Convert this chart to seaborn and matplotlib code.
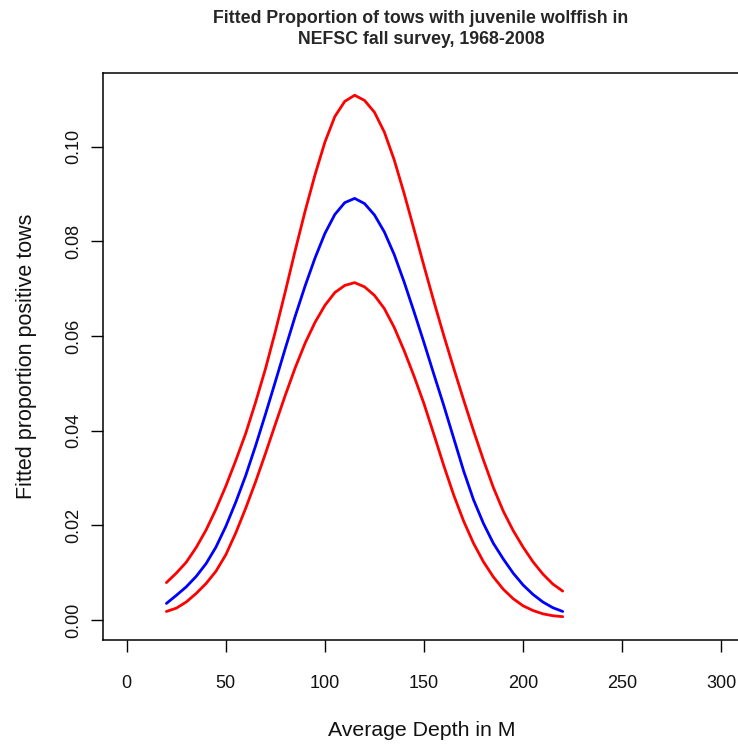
import numpy as np
import pandas as pd
import matplotlib
matplotlib.use("Agg")
import matplotlib.pyplot as plt
import seaborn as sns

# ---- data ----
depth = [20, 25, 30, 35, 40, 45, 50, 55, 60, 65, 70, 75, 80, 85, 90, 95, 100,
         105, 110, 115, 120, 125, 130, 135, 140, 145, 150, 155, 160, 165, 170,
         175, 180, 185, 190, 195, 200, 205, 210, 215, 220]
fit = [0.0035, 0.0052, 0.0070, 0.0092, 0.0119, 0.0154, 0.0198, 0.0249, 0.0305,
       0.0368, 0.0435, 0.0504, 0.0574, 0.0642, 0.0706, 0.0765, 0.0817, 0.0857,
       0.0882, 0.0891, 0.0880, 0.0856, 0.0820, 0.0772, 0.0714, 0.0651, 0.0586,
       0.0519, 0.0453, 0.0384, 0.0315, 0.0254, 0.0204, 0.0162, 0.0129, 0.0099,
       0.0074, 0.0054, 0.0038, 0.0026, 0.0018]
upper = [0.0079, 0.0099, 0.0122, 0.0153, 0.0190, 0.0234, 0.0283, 0.0337, 0.0394,
         0.0460, 0.0531, 0.0610, 0.0694, 0.0781, 0.0864, 0.0941, 0.1010, 0.1064,
         0.1096, 0.1109, 0.1098, 0.1073, 0.1031, 0.0972, 0.0901, 0.0825, 0.0748,
         0.0673, 0.0601, 0.0532, 0.0465, 0.0400, 0.0338, 0.0280, 0.0230, 0.0189,
         0.0154, 0.0123, 0.0097, 0.0076, 0.0061]
lower = [0.0018, 0.0025, 0.0038, 0.0056, 0.0077, 0.0103, 0.0138, 0.0184, 0.0236,
         0.0292, 0.0352, 0.0414, 0.0475, 0.0533, 0.0585, 0.0629, 0.0665, 0.0692,
         0.0707, 0.0713, 0.0704, 0.0686, 0.0658, 0.0618, 0.0569, 0.0515, 0.0457,
         0.0392, 0.0326, 0.0264, 0.0209, 0.0162, 0.0123, 0.0091, 0.0065, 0.0045,
         0.0030, 0.0020, 0.0013, 0.0009, 0.0007]

x_ticks = [0, 50, 100, 150, 200, 250, 300]
y_ticks = [0.00, 0.02, 0.04, 0.06, 0.08, 0.10]
y_tick_labels = ["0.00", "0.02", "0.04", "0.06", "0.08", "0.10"]

title = "Fitted Proportion of tows with juvenile wolffish in\nNEFSC fall survey, 1968-2008"
xlabel = "Average Depth in M"
ylabel = "Fitted proportion positive tows"

sns.set_style("white")
plt.rcParams["font.family"] = ["Liberation Sans", "DejaVu Sans"]

df = pd.DataFrame({
    "depth": depth * 3,
    "value": fit + upper + lower,
    "series": ["fit"] * len(depth) + ["upper"] * len(depth) + ["lower"] * len(depth),
})

W, H = 738, 747
fig = plt.figure(figsize=(W / 100, H / 100), dpi=100)
ax = fig.add_axes([103 / W, 1 - 640 / H, (745 - 103) / W, (640 - 73) / H])

palette = {"fit": "#0000FF", "upper": "#FF0000", "lower": "#FF0000"}
for name in ["upper", "fit", "lower"]:
    sub = df[df["series"] == name]
    sns.lineplot(data=sub, x="depth", y="value", color=palette[name],
                 linewidth=2.0, ax=ax, legend=False, sort=True)

ax.set_xlim(-12, 312)
ax.set_ylim(-0.00423, 0.1156)
ax.set_xticks(x_ticks)
ax.set_xticklabels([str(t) for t in x_ticks])
ax.set_yticks(y_ticks)
ax.set_yticklabels(y_tick_labels)

for s in ax.spines.values():
    s.set_visible(True)
    s.set_color("black")
    s.set_linewidth(1.1)

ax.tick_params(axis="both", direction="out", length=8.5, width=1.0,
               color="black", labelsize=13, labelcolor="#111111",
               bottom=True, left=True, top=False, right=False)
ax.tick_params(axis="x", pad=17)
ax.tick_params(axis="y", pad=6.5, labelrotation=90)
for lab in ax.get_yticklabels():
    lab.set_verticalalignment("center")

ax.set_xlabel(xlabel, fontsize=15.3, color="#111111")
ax.set_ylabel(ylabel, fontsize=15.5, color="#111111")
ax.xaxis.set_label_coords((422 - 103) / (745 - 103), -(721 - 640) / (640 - 73))
ax.yaxis.set_label_coords(-(103 - 37) / (745 - 103), (640 - 356) / (640 - 73))

fig.text(421 / W, 1 - 10 / H, title, ha="center", va="top", fontsize=12.8,
         fontweight="bold", linespacing=1.3)

fig.savefig("out.png", dpi=100)
